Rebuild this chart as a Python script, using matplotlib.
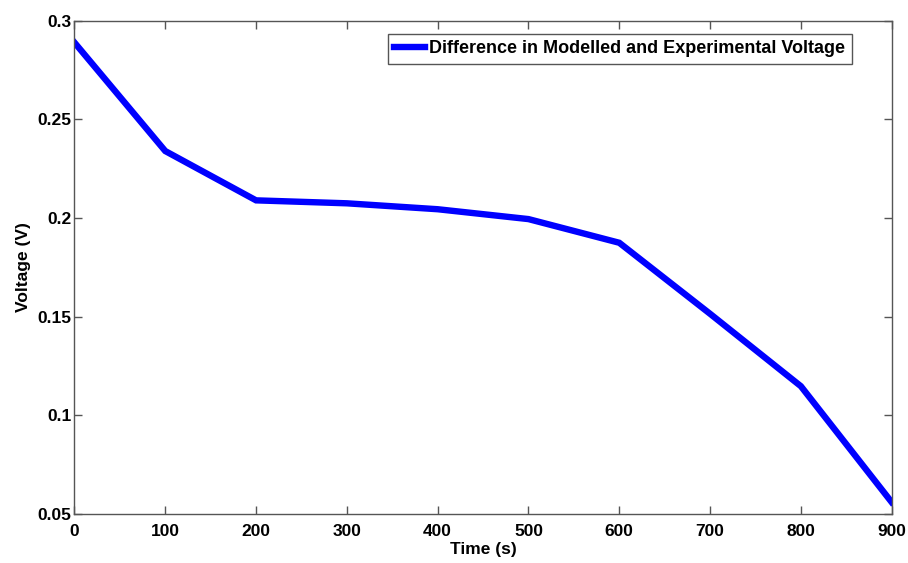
import matplotlib
matplotlib.use('Agg')
import matplotlib.pyplot as plt

time_s = [0, 100, 200, 300, 400, 500, 600, 700, 800, 900]
voltage_diff = [0.289, 0.234, 0.209, 0.2075, 0.2045, 0.1995, 0.1875, 0.1515, 0.1148, 0.056]
x_ticks = [0, 100, 200, 300, 400, 500, 600, 700, 800, 900]
y_ticks = [0.05, 0.1, 0.15, 0.2, 0.25, 0.3]
y_tick_labels = ['0.05', '0.1', '0.15', '0.2', '0.25', '0.3']

plt.rcParams['font.family'] = ['Liberation Sans', 'DejaVu Sans']
plt.rcParams['font.weight'] = 'bold'

fig = plt.figure(figsize=(9.08, 5.63), dpi=100)
ax = fig.add_axes([0.082, 0.087, 0.9, 0.876])

ax.plot(time_s, voltage_diff, color='#0000ff', linewidth=4.6,
        label='Difference in Modelled and Experimental Voltage', solid_joinstyle='miter')

ax.set_xlim(0, 900)
ax.set_ylim(0.05, 0.3)
ax.set_xticks(x_ticks)
ax.set_yticks(y_ticks)
ax.set_yticklabels(y_tick_labels)
ax.tick_params(direction='in', length=6, width=1, color='#555555', top=True, right=True,
               labelsize=12.5)
ax.tick_params(axis='x', pad=7)
ax.tick_params(axis='y', pad=2)
for s in ax.spines.values():
    s.set_color('#555555')
    s.set_linewidth(1)

ax.set_xlabel('Time (s)', fontsize=12.5, fontweight='bold', labelpad=2)
ax.set_ylabel('Voltage (V)', fontsize=12.5, fontweight='bold', labelpad=5)

leg = ax.legend(loc='upper right', bbox_to_anchor=(0.951, 0.973), borderaxespad=0,
                fontsize=13, handlelength=1.7, handletextpad=0.25, borderpad=0.35,
                fancybox=False, framealpha=1, edgecolor='#555555')
leg.get_frame().set_linewidth(1)

fig.savefig('out.png', dpi=100)
